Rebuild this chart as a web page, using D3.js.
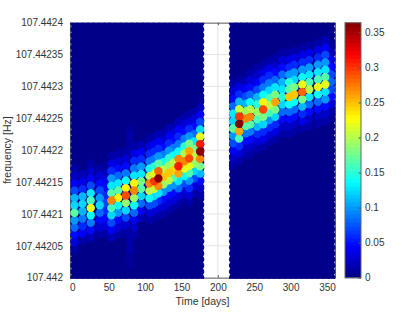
<!DOCTYPE html>
<html>
<head>
<meta charset="utf-8">
<script src="https://cdn.jsdelivr.net/npm/d3@7"></script>
<style>
body { margin: 0; background: #fff; }
text { font-family: "Liberation Sans", Arial, sans-serif; fill: #333; }
</style>
</head>
<body>
<script>
var xTicks = [0, 50, 100, 150, 200, 250, 300, 350];
var yTicks = [107.442, 107.44205, 107.4421, 107.44215, 107.4422, 107.44225, 107.4423, 107.44235, 107.4424];
var yTickLabels = ["107.442", "107.44205", "107.4421", "107.44215", "107.4422", "107.44225", "107.4423", "107.44235", "107.4424"];
var cTicks = [0, 0.05, 0.1, 0.15, 0.2, 0.25, 0.3, 0.35];
var cTickLabels = ["0", "0.05", "0.1", "0.15", "0.2", "0.25", "0.3", "0.35"];
var cMax = 0.3638;
var binWidth = 0.00001157;

// background grid, nearly zero power
var bgTimes = [3, 10.5, 18, 25.5, 33, 40.5, 48, 55.5, 63, 70.5, 78, 85.5, 93, 100.5, 108, 115.5, 123, 130.5, 138, 145.5, 153, 160.5, 168, 175.6,
  221, 228.5, 236, 243.5, 251, 258.5, 266, 273.5, 281, 288.5, 296, 303.5, 311, 318.5, 326, 333.5, 341, 348.5, 355.8];
var bgFreqs = [107.442, 107.4420095, 107.442019, 107.4420285, 107.442038, 107.4420475, 107.442057, 107.4420665, 107.442076, 107.4420855,
  107.442095, 107.4421045, 107.442114, 107.4421235, 107.442133, 107.4421425, 107.442152, 107.4421615, 107.442171, 107.4421805,
  107.44219, 107.4421995, 107.442209, 107.4422185, 107.442228, 107.4422375, 107.442247, 107.4422565, 107.442266, 107.4422755,
  107.442285, 107.4422945, 107.442304, 107.4423135, 107.442323, 107.4423325, 107.442342, 107.4423515, 107.442361, 107.4423705,
  107.44238, 107.4423895, 107.442399];
var bgAmp = 0.004;

// band columns: time, lowest bin frequency, power from that bin upwards
var times = [3, 14, 25.3, 37.7, 45, 53.6, 62.9, 73.5, 79, 79, 84.9, 94.5, 105.9, 112.4, 118.3, 125.2, 132.6, 138.9, 145.8, 154, 160.5, 167.4, 175.6,
  221, 229.3, 238.5, 244.4, 254, 262.3, 270.6, 278.8, 288.5, 298, 305, 316, 325.6, 337.6, 347.6, 355.8];
var firstFreq = [107.4420439, 107.4420580, 107.4420632, 107.4420673, 107.4420711, 107.4420632, 107.4420673, 107.4420711, 107.442020, 107.4422003,
  107.4420673, 107.4420933, 107.4420899, 107.4420933, 107.4420977, 107.4421002, 107.4421065, 107.4421108, 107.4421170, 107.4421249, 107.4421175, 107.4421326, 107.4421285,
  107.4421762, 107.4421834, 107.4421918, 107.4421944, 107.4422022, 107.4422060, 107.4422126, 107.4422177, 107.4422257, 107.4422257, 107.4422295, 107.4422336, 107.4422373, 107.4422414, 107.4422452, 107.4422493];
var amps = [
  [.015, .03, .05, .08, .1, .17, .12, .11, .07, .045, .025, .012],
  [.015, .04, .06, .09, .11, .12, .11, .06, .035, .018],
  [.02, .05, .09, .14, .22, .16, .13, .07, .045, .025, .012],
  [.012, .03, .05, .08, .12, .1, .07, .05, .03, .015],
  [.012, .03, .05, .06, .07, .06, .05, .035, .02, .01],
  [.02, .04, .07, .12, .16, .27, .17, .13, .1, .06, .035, .015],
  [.012, .03, .05, .1, .14, .23, .17, .13, .08, .05, .03, .012],
  [.015, .03, .07, .12, .19, .29, .23, .14, .09, .05, .03, .012],
  [.01, .01, .012, .012, .012],
  [.012, .015, .012, .01],
  [.012, .025, .04, .08, .14, .19, .27, .23, .13, .09, .06, .035, .015],
  [.02, .04, .08, .12, .17, .18, .13, .1, .06, .04, .02],
  [.015, .03, .07, .14, .2, .27, .2, .14, .09, .06, .035, .015],
  [.015, .03, .07, .12, .21, .3, .22, .15, .09, .06, .035, .015],
  [.015, .03, .06, .13, .27, .36, .28, .17, .1, .06, .04, .02],
  [.012, .03, .05, .1, .19, .25, .2, .14, .09, .05, .025, .012],
  [.012, .03, .05, .1, .2, .25, .19, .15, .1, .06, .04, .02],
  [.012, .03, .05, .1, .16, .24, .2, .14, .09, .05, .03, .012],
  [.015, .03, .08, .13, .26, .31, .27, .14, .09, .06, .04, .02],
  [.015, .03, .07, .14, .22, .27, .2, .15, .09, .05, .03, .012],
  [.015, .03, .06, .1, .16, .22, .29, .26, .18, .1, .06, .03, .015],
  [.015, .03, .07, .12, .19, .2, .18, .13, .08, .05, .03, .012],
  [.012, .025, .05, .11, .18, .27, .36, .31, .22, .12, .07, .04, .02, .01],
  [.012, .025, .04, .07, .1, .17, .12, .13, .08, .05, .03, .012],
  [.012, .03, .06, .16, .26, .36, .3, .21, .11, .06, .035, .015],
  [.012, .025, .05, .09, .17, .27, .19, .11, .07, .04, .02, .01],
  [.012, .025, .05, .09, .17, .27, .2, .14, .08, .05, .03, .012],
  [.012, .03, .06, .11, .16, .19, .15, .11, .07, .045, .025, .012],
  [.015, .035, .06, .12, .18, .29, .23, .14, .09, .06, .035, .015],
  [.012, .03, .06, .1, .16, .2, .16, .12, .09, .06, .035, .015],
  [.015, .035, .06, .12, .18, .26, .18, .13, .08, .05, .025, .012],
  [.012, .025, .05, .08, .12, .15, .13, .11, .08, .05, .03, .012],
  [.012, .025, .05, .08, .14, .25, .17, .15, .1, .06, .035, .015],
  [.012, .025, .05, .08, .14, .25, .18, .12, .1, .06, .035, .015],
  [.015, .035, .06, .11, .18, .28, .22, .14, .1, .06, .035, .015],
  [.012, .025, .05, .08, .13, .2, .16, .13, .1, .06, .035, .015],
  [.012, .025, .05, .08, .14, .22, .16, .13, .1, .06, .035, .015],
  [.012, .025, .05, .1, .13, .22, .17, .13, .1, .07, .04, .02],
  [.01, .015, .03, .05, .07, .08, .07, .05, .035, .02, .01]
];

var left = 70, right = 335, top_ = 22.7, bottom = 277.7;
var barLeft = 345, barRight = 361;

var x = d3.scaleLinear().domain([-3.2, 361]).range([left, right]);
var y = d3.scaleLinear().domain([107.442, 107.4424]).range([bottom, top_]);
var cy = d3.scaleLinear().domain([0, cMax]).range([bottom, top_]);

// jet colormap, 64 levels like the colorbar
var jet = d3.scaleLinear()
    .domain([0, 0.125, 0.375, 0.625, 0.875, 1])
    .range(["#000080", "#0000ff", "#00ffff", "#ffff00", "#ff0000", "#800000"]);
function color(v) {
    var level = Math.min(63, Math.floor(v / cMax * 64));
    return jet((level + 0.5) / 64);
}

var svg = d3.select("body").append("svg")
    .attr("width", 415)
    .attr("height", 312)
    .style("display", "block");

svg.append("defs").append("clipPath").attr("id", "plot")
  .append("rect")
    .attr("x", left - 2).attr("y", top_)
    .attr("width", right - left + 4).attr("height", bottom - top_ + 1);

// grid
var grid = svg.append("g").attr("stroke", "#e4e4e4").attr("stroke-width", 1);
grid.selectAll(".gx").data(xTicks).enter().append("line")
    .attr("x1", function(d) { return x(d); }).attr("x2", function(d) { return x(d); })
    .attr("y1", top_).attr("y2", bottom);
grid.selectAll(".gy").data(yTicks).enter().append("line")
    .attr("x1", left).attr("x2", right)
    .attr("y1", function(d) { return y(d); }).attr("y2", function(d) { return y(d); });

// axes
function styleAxis(g) {
    g.selectAll(".domain").attr("stroke", "#666");
    g.selectAll(".tick line").attr("stroke", "#555");
    g.selectAll("text").attr("font-size", 10);
}
svg.append("g").attr("transform", "translate(0," + bottom + ")")
    .call(d3.axisBottom(x).tickValues(xTicks).tickSize(-2.5).tickSizeOuter(0).tickPadding(6).tickFormat(d3.format("d")))
    .call(styleAxis);
svg.append("g").attr("transform", "translate(0," + top_ + ")")
    .call(d3.axisTop(x).tickValues(xTicks).tickSize(-2.5).tickSizeOuter(0).tickFormat(""))
    .call(styleAxis);
svg.append("g").attr("transform", "translate(" + left + ",0)")
    .call(d3.axisLeft(y).tickValues(yTicks).tickSize(-2.5).tickSizeOuter(0).tickPadding(7)
        .tickFormat(function(d, i) { return yTickLabels[i]; }))
    .call(styleAxis);
svg.append("g").attr("transform", "translate(" + right + ",0)")
    .call(d3.axisRight(y).tickValues(yTicks).tickSize(-2.5).tickSizeOuter(0).tickFormat(""))
    .call(styleAxis);

// points
var points = [];
bgTimes.forEach(function(t) {
    bgFreqs.forEach(function(f) { points.push({t: t, f: f, a: bgAmp}); });
});
times.forEach(function(t, i) {
    amps[i].forEach(function(a, j) {
        points.push({t: t, f: firstFreq[i] + j * binWidth, a: a});
    });
});
points.sort(function(p, q) { return p.a - q.a; });

svg.append("g").attr("clip-path", "url(#plot)")
  .selectAll("circle").data(points).enter().append("circle")
    .attr("cx", function(d) { return x(d.t); })
    .attr("cy", function(d) { return y(d.f); })
    .attr("r", 4.2)
    .attr("fill", function(d) { return color(d.a); });

// colorbar
var levels = d3.range(64);
svg.append("g").selectAll("rect").data(levels).enter().append("rect")
    .attr("x", barLeft)
    .attr("width", barRight - barLeft)
    .attr("y", function(d) { return cy((d + 1) / 64 * cMax); })
    .attr("height", (bottom - top_) / 64 + 0.5)
    .attr("fill", function(d) { return jet((d + 0.5) / 64); });
svg.append("rect")
    .attr("x", barLeft).attr("y", top_)
    .attr("width", barRight - barLeft).attr("height", bottom - top_)
    .attr("fill", "none").attr("stroke", "#666");
svg.append("g").attr("transform", "translate(" + barRight + ",0)")
    .call(d3.axisRight(cy).tickValues(cTicks).tickSize(-2.5).tickSizeOuter(0).tickPadding(4)
        .tickFormat(function(d, i) { return cTickLabels[i]; }))
    .call(styleAxis)
    .call(function(g) { g.select(".domain").remove(); });

// labels
svg.append("text")
    .attr("x", (left + right) / 2)
    .attr("y", 305)
    .attr("text-anchor", "middle")
    .attr("font-size", 10.5)
    .text("Time [days]");
svg.append("text")
    .attr("transform", "translate(11," + (top_ + bottom) / 2 + ") rotate(-90)")
    .attr("text-anchor", "middle")
    .attr("font-size", 10.5)
    .text("frequency [Hz]");
</script>
</body>
</html>
